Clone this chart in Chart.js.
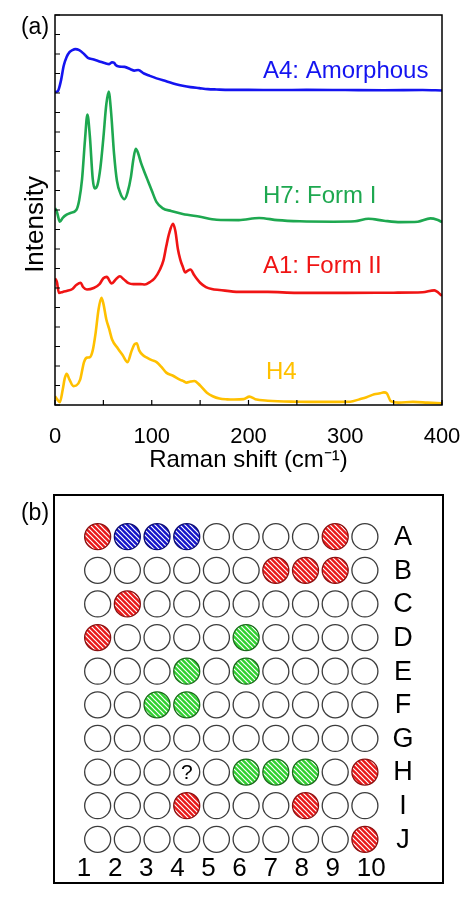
<!DOCTYPE html>
<html>
<head>
<meta charset="utf-8">
<script src="https://cdn.jsdelivr.net/npm/chart.js@4.4.0/dist/chart.umd.min.js"></script>
<style>
  html, body { margin: 0; padding: 0; background: #fff; }
  body { width: 474px; height: 904px; position: relative; overflow: hidden; }
  #spectra { position: absolute; left: 0; top: 0; }
  #plate { position: absolute; left: 0; top: 480px; }
</style>
</head>
<body>
<canvas id="spectra" width="474" height="480"></canvas>
<canvas id="plate" width="474" height="424"></canvas>
<script>
// ---- (a) Raman spectra, offset stacked (intensity in arbitrary units) ----
var a4Shift = [0, 3, 6, 9, 12, 15, 18, 21, 25, 30, 34, 40, 46, 52, 56, 59, 61, 63, 66, 72, 78, 82, 86, 92, 98, 105, 115, 125, 132, 140, 149, 158, 167, 180, 200, 230, 260, 300, 340, 380, 400];
var a4Intensity = [16.05, 16.1, 16.6, 17.4, 17.85, 18.1, 18.2, 18.25, 18.2, 18.0, 17.8, 17.72, 17.62, 17.52, 17.48, 17.58, 17.55, 17.42, 17.36, 17.34, 17.22, 17.15, 17.18, 17.0, 16.88, 16.75, 16.6, 16.45, 16.37, 16.3, 16.25, 16.2, 16.18, 16.16, 16.16, 16.15, 16.16, 16.15, 16.14, 16.15, 16.13];

var h7Shift = [0, 2, 5, 8, 12, 16, 22, 25, 28, 31, 33.5, 36, 39, 41, 44, 47, 50, 53, 55.5, 58, 61, 64, 68, 72, 75, 78.5, 81, 83.5, 86, 89, 92, 96, 100, 105, 111, 120, 132, 150, 167, 190, 211, 230, 253, 288, 310, 324, 340, 357, 375, 388, 395, 400];
var h7Intensity = [10.1, 9.9, 9.4, 9.6, 9.76, 9.85, 10.0, 10.5, 11.6, 13.6, 14.9, 13.8, 11.6, 11.1, 11.3, 12.2, 13.7, 15.4, 16.07, 15.0, 12.9, 11.5, 10.8, 10.56, 10.9, 11.7, 12.6, 13.14, 12.9, 12.4, 12.0, 11.5, 11.0, 10.4, 10.1, 9.95, 9.8, 9.65, 9.5, 9.48, 9.59, 9.48, 9.42, 9.4, 9.42, 9.55, 9.45, 9.38, 9.4, 9.57, 9.5, 9.38];

var a1Shift = [0, 2, 4, 8, 12, 18, 22, 26.5, 29, 33, 40, 46, 50, 53.5, 58.5, 63, 67, 71, 76, 81, 88, 93, 98, 103, 108.5, 112, 115, 118, 122, 124.5, 127, 129.5, 132, 134.5, 137, 140, 144, 150, 156, 162, 170, 190, 220, 250, 300, 350, 380, 392, 400];
var a1Intensity = [6.5, 6.3, 5.75, 5.8, 5.85, 5.95, 6.15, 6.27, 6.05, 5.92, 6.0, 6.2, 6.5, 6.57, 6.23, 6.45, 6.6, 6.45, 6.25, 6.2, 6.2, 6.18, 6.3, 6.5, 6.95, 7.4, 8.14, 8.8, 9.29, 8.9, 8.0, 7.46, 7.1, 6.8, 6.88, 6.95, 6.65, 6.27, 6.05, 5.95, 5.9, 5.8, 5.8, 5.75, 5.75, 5.76, 5.78, 5.88, 5.6];

var h4Shift = [0, 2, 5, 8, 10, 12, 15, 19, 22, 26, 30, 33, 36, 39, 42, 45, 48, 50, 53, 56, 59, 65, 70, 75, 79, 82, 84.5, 87, 91, 95, 100, 105, 110, 115, 122, 129, 133, 136, 140, 144, 150, 157, 163, 170, 178, 185, 195, 201, 207, 220, 250, 280, 305, 315, 322, 330, 336, 340, 343, 347, 355, 370, 385, 400];
var h4Intensity = [0.45, 0.3, 0.15, 0.8, 1.35, 1.6, 1.3, 0.97, 1.0, 1.3, 2.2, 2.43, 2.45, 2.8, 3.7, 4.9, 5.5, 5.2, 4.4, 3.9, 3.36, 2.9, 2.55, 2.2, 2.75, 3.1, 3.17, 2.8, 2.55, 2.43, 2.3, 2.2, 1.95, 1.66, 1.5, 1.3, 1.22, 1.15, 1.2, 1.23, 1.0, 0.63, 0.45, 0.33, 0.29, 0.28, 0.3, 0.43, 0.3, 0.22, 0.17, 0.16, 0.17, 0.3, 0.4, 0.55, 0.6, 0.65, 0.6, 0.2, 0.12, 0.16, 0.12, 0.08];

var spectrumNames = ['A4: Amorphous', 'H7: Form I', 'A1: Form II', 'H4'];
var spectrumColors = ['#1414f0', '#1ea850', '#f01414', '#ffc000'];
var shiftTicks = [0, 100, 200, 300, 400];

// ---- (b) 10 x 10 well plate ----
var rowLabels = ['A', 'B', 'C', 'D', 'E', 'F', 'G', 'H', 'I', 'J'];
var colLabels = ['1', '2', '3', '4', '5', '6', '7', '8', '9', '10'];
var formIIWells = ['A1', 'A9', 'B7', 'B8', 'B9', 'C2', 'D1', 'H10', 'I4', 'I8', 'J10'];
var formIWells = ['D6', 'E4', 'E6', 'F3', 'F4', 'H6', 'H7', 'H8'];
var amorphousWells = ['A2', 'A3', 'A4'];
var unknownWells = ['H4'];

var FONT = 'Liberation Sans, Arial, sans-serif';

function toPoints(xs, ys) {
    return xs.map(function (x, i) { return { x: x, y: ys[i] }; });
}

var seriesShift = [a4Shift, h7Shift, a1Shift, h4Shift];
var seriesIntensity = [a4Intensity, h7Intensity, a1Intensity, h4Intensity];
var spectraSets = [];
for (var i = 0; i < seriesShift.length; i++) {
    spectraSets.push({
        label: spectrumNames[i],
        data: toPoints(seriesShift[i], seriesIntensity[i]),
        borderColor: spectrumColors[i],
        borderWidth: 2.6,
        pointRadius: 0,
        cubicInterpolationMode: 'monotone',
        fill: false
    });
}

// box, inward tick marks and curve labels for panel (a)
var spectraDecor = {
    id: 'spectraDecor',
    afterDatasetsDraw: function (chart) {
        var ctx = chart.ctx, a = chart.chartArea;
        var xs = chart.scales.x, ys = chart.scales.y;
        ctx.save();
        ctx.strokeStyle = '#000';
        ctx.lineWidth = 1.5;
        ctx.strokeRect(a.left, a.top, a.right - a.left, a.bottom - a.top);
        ctx.lineWidth = 1.2;
        ctx.beginPath();
        xs.ticks.forEach(function (t) {
            var px = xs.getPixelForValue(t.value);
            ctx.moveTo(px, a.bottom);
            ctx.lineTo(px, a.bottom - 5);
        });
        ys.ticks.forEach(function (t) {
            var py = ys.getPixelForValue(t.value);
            ctx.moveTo(a.left, py);
            ctx.lineTo(a.left + 5, py);
        });
        ctx.stroke();

        // label anchors in data units
        var anchors = [[215, 17.1], [215, 10.7], [215, 7.1], [218, 1.67]];
        ctx.font = '24px ' + FONT;
        ctx.textAlign = 'left';
        ctx.textBaseline = 'middle';
        for (var k = 0; k < spectrumNames.length; k++) {
            ctx.fillStyle = spectrumColors[k];
            ctx.fillText(spectrumNames[k], xs.getPixelForValue(anchors[k][0]), ys.getPixelForValue(anchors[k][1]));
        }
        ctx.fillStyle = '#000';
        ctx.font = '23px ' + FONT;
        ctx.textAlign = 'center';
        ctx.fillText('(a)', 35, 28);
        ctx.restore();
    }
};

new Chart(document.getElementById('spectra'), {
    type: 'line',
    data: { datasets: spectraSets },
    options: {
        responsive: false,
        animation: false,
        layout: { padding: { top: 15, right: 32, left: 0, bottom: 0 } },
        plugins: { legend: { display: false }, tooltip: { enabled: false } },
        scales: {
            x: {
                type: 'linear', min: 0, max: 400,
                afterFit: function (s) { s.height = 75; },
                grid: { display: false }, border: { display: false },
                ticks: {
                    stepSize: 50, autoSkip: false, maxRotation: 0, padding: 11,
                    color: '#000', font: { family: FONT, size: 22 },
                    callback: function (v) { return shiftTicks.indexOf(v) >= 0 ? String(v) : ''; }
                },
                title: {
                    display: true, text: 'Raman shift (cm\u207B\u00B9)', color: '#000',
                    font: { family: FONT, size: 24 }, padding: { top: 0, bottom: 5 }
                }
            },
            y: {
                type: 'linear', min: 0, max: 20,
                afterFit: function (s) { s.width = 55; },
                grid: { display: false }, border: { display: false },
                ticks: { stepSize: 1, display: false },
                title: {
                    display: true, text: 'Intensity    ', color: '#000',
                    font: { family: FONT, size: 26 }, padding: { top: 20, bottom: 0 }
                }
            }
        }
    },
    plugins: [spectraDecor]
});

// ---- plate ----
function hatch(color) {
    var c = document.createElement('canvas');
    c.width = 5; c.height = 5;
    var g = c.getContext('2d');
    g.fillStyle = color;
    g.fillRect(0, 0, 5, 5);
    g.strokeStyle = '#fff';
    g.lineWidth = 1.2;
    g.beginPath();
    for (var k = -1; k <= 1; k++) {
        g.moveTo(-5, -5 + k * 5);
        g.lineTo(10, 10 + k * 5);
    }
    g.stroke();
    return g.createPattern(c, 'repeat');
}

function wellPoint(id) {
    return { x: parseInt(id.slice(1), 10), y: rowLabels.indexOf(id[0]) };
}

var filled = formIIWells.concat(formIWells, amorphousWells);
var emptyWells = [];
rowLabels.forEach(function (r) {
    colLabels.forEach(function (c) {
        if (filled.indexOf(r + c) < 0) emptyWells.push(r + c);
    });
});

function wellSet(list, fill, border) {
    return {
        data: list.map(wellPoint),
        backgroundColor: fill,
        borderColor: border,
        borderWidth: 1.3,
        pointRadius: 13,
        pointHoverRadius: 13
    };
}

var plateDecor = {
    id: 'plateDecor',
    afterDraw: function (chart) {
        var ctx = chart.ctx, a = chart.chartArea;
        var xs = chart.scales.x, ys = chart.scales.y;
        ctx.save();
        ctx.strokeStyle = '#000';
        ctx.lineWidth = 2;
        ctx.strokeRect(a.left, a.top, a.right - a.left, a.bottom - a.top);
        ctx.fillStyle = '#000';
        ctx.textBaseline = 'middle';
        ctx.font = '27px ' + FONT;
        ctx.textAlign = 'center';
        rowLabels.forEach(function (r, i) {
            ctx.fillText(r, xs.getPixelForValue(11.28), ys.getPixelForValue(i) + 1);
        });
        ctx.font = '26px ' + FONT;
        ctx.textAlign = 'left';
        colLabels.forEach(function (c, i) {
            ctx.fillText(c, xs.getPixelForValue(0.3 + i * 1.047), ys.getPixelForValue(9.88));
        });
        ctx.font = '21px ' + FONT;
        ctx.textAlign = 'center';
        unknownWells.forEach(function (id) {
            var p = wellPoint(id);
            ctx.fillText('?', xs.getPixelForValue(p.x), ys.getPixelForValue(p.y) + 1);
        });
        ctx.font = '23px ' + FONT;
        ctx.fillText('(b)', 35, 34);
        ctx.restore();
    }
};

new Chart(document.getElementById('plate'), {
    type: 'scatter',
    data: {
        datasets: [
            wellSet(emptyWells, '#fff', '#3c3c3c'),
            wellSet(formIIWells, hatch('#e81818'), '#8a1010'),
            wellSet(amorphousWells, hatch('#1414c8'), '#0c0c70'),
            wellSet(formIWells, hatch('#30d030'), '#1a6a1a')
        ]
    },
    options: {
        responsive: false,
        animation: false,
        layout: { padding: { top: 15, right: 31, left: 54, bottom: 21 } },
        plugins: { legend: { display: false }, tooltip: { enabled: false } },
        scales: {
            x: { type: 'linear', display: false, min: -0.47, max: 12.63 },
            y: { type: 'linear', display: false, reverse: true, min: -1.24, max: 10.3 }
        }
    },
    plugins: [plateDecor]
});
</script>
</body>
</html>
